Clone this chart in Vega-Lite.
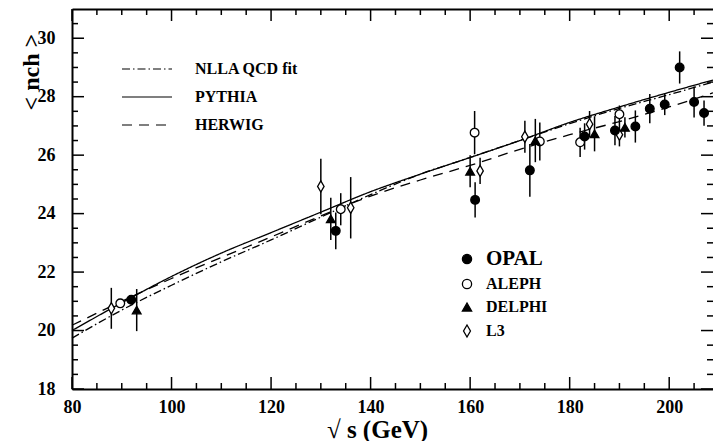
{
  "$schema": "https://vega.github.io/schema/vega-lite/v6.json",
  "width": 641,
  "height": 380,
  "autosize": "none",
  "padding": {"left": 72, "top": 9, "right": 0, "bottom": 52},
  "background": "white",
  "config": {
    "view": {"stroke": null},
    "font": "Liberation Serif",
    "axis": {
      "grid": false,
      "domain": true,
      "domainColor": "black",
      "domainWidth": 2,
      "ticks": false,
      "tickSize": 0,
      "labelFont": "Liberation Serif",
      "labelFontWeight": "bold",
      "labelFontSize": 18,
      "labelColor": "black",
      "labelFlush": false,
      "labelOverlap": false,
      "titleFont": "Liberation Serif",
      "titleFontWeight": "bold",
      "titleColor": "black"
    }
  },
  "datasets": {
    "curves": [
      {"model": "NLLA QCD fit", "E": 80, "n": 19.74},
      {"model": "NLLA QCD fit", "E": 90, "n": 20.7},
      {"model": "NLLA QCD fit", "E": 100, "n": 21.55},
      {"model": "NLLA QCD fit", "E": 110, "n": 22.35},
      {"model": "NLLA QCD fit", "E": 120, "n": 23.1},
      {"model": "NLLA QCD fit", "E": 130, "n": 23.88},
      {"model": "NLLA QCD fit", "E": 140, "n": 24.65},
      {"model": "NLLA QCD fit", "E": 150, "n": 25.35},
      {"model": "NLLA QCD fit", "E": 160, "n": 25.92},
      {"model": "NLLA QCD fit", "E": 170, "n": 26.5},
      {"model": "NLLA QCD fit", "E": 180, "n": 27.08},
      {"model": "NLLA QCD fit", "E": 190, "n": 27.6},
      {"model": "NLLA QCD fit", "E": 200, "n": 28.07},
      {"model": "NLLA QCD fit", "E": 208.8, "n": 28.5},
      {"model": "PYTHIA", "E": 80, "n": 20.0},
      {"model": "PYTHIA", "E": 90, "n": 20.95},
      {"model": "PYTHIA", "E": 100, "n": 21.85},
      {"model": "PYTHIA", "E": 110, "n": 22.65},
      {"model": "PYTHIA", "E": 120, "n": 23.35},
      {"model": "PYTHIA", "E": 130, "n": 24.05},
      {"model": "PYTHIA", "E": 140, "n": 24.75},
      {"model": "PYTHIA", "E": 150, "n": 25.35},
      {"model": "PYTHIA", "E": 160, "n": 25.92},
      {"model": "PYTHIA", "E": 170, "n": 26.5},
      {"model": "PYTHIA", "E": 180, "n": 27.12},
      {"model": "PYTHIA", "E": 190, "n": 27.65},
      {"model": "PYTHIA", "E": 200, "n": 28.15},
      {"model": "PYTHIA", "E": 208.8, "n": 28.57},
      {"model": "HERWIG", "E": 80, "n": 20.18},
      {"model": "HERWIG", "E": 90, "n": 21.0},
      {"model": "HERWIG", "E": 100, "n": 21.78},
      {"model": "HERWIG", "E": 110, "n": 22.5},
      {"model": "HERWIG", "E": 120, "n": 23.2},
      {"model": "HERWIG", "E": 130, "n": 23.92},
      {"model": "HERWIG", "E": 140, "n": 24.6},
      {"model": "HERWIG", "E": 150, "n": 25.15},
      {"model": "HERWIG", "E": 160, "n": 25.65},
      {"model": "HERWIG", "E": 170, "n": 26.2},
      {"model": "HERWIG", "E": 180, "n": 26.7},
      {"model": "HERWIG", "E": 190, "n": 27.15},
      {"model": "HERWIG", "E": 200, "n": 27.65},
      {"model": "HERWIG", "E": 208.8, "n": 28.13}
    ],
    "points": [
      {"exp": "L3", "E": 87.9, "n": 20.76, "err": 0.7},
      {"exp": "L3", "E": 130.0, "n": 24.93, "err": 0.95},
      {"exp": "L3", "E": 136.0, "n": 24.2, "err": 1.05},
      {"exp": "L3", "E": 162.0, "n": 25.46, "err": 0.45},
      {"exp": "L3", "E": 171.0, "n": 26.63, "err": 0.55},
      {"exp": "L3", "E": 184.0, "n": 27.06, "err": 0.45},
      {"exp": "L3", "E": 190.0, "n": 26.7, "err": 0.4},
      {"exp": "ALEPH", "E": 89.7, "n": 20.93, "err": 0.1},
      {"exp": "ALEPH", "E": 134.0, "n": 24.15, "err": 0.55},
      {"exp": "ALEPH", "E": 160.9, "n": 26.77, "err": 0.74},
      {"exp": "ALEPH", "E": 174.0, "n": 26.47, "err": 0.65},
      {"exp": "ALEPH", "E": 182.1, "n": 26.44, "err": 0.5},
      {"exp": "ALEPH", "E": 190.0, "n": 27.4, "err": 0.3},
      {"exp": "OPAL", "E": 91.9, "n": 21.05, "err": 0.1},
      {"exp": "OPAL", "E": 133.0, "n": 23.41, "err": 0.63},
      {"exp": "OPAL", "E": 161.0, "n": 24.47, "err": 0.6},
      {"exp": "OPAL", "E": 172.0, "n": 25.48, "err": 0.9},
      {"exp": "OPAL", "E": 183.0, "n": 26.64, "err": 0.45},
      {"exp": "OPAL", "E": 189.1, "n": 26.84, "err": 0.5},
      {"exp": "OPAL", "E": 193.2, "n": 26.98, "err": 0.55},
      {"exp": "OPAL", "E": 196.1, "n": 27.59, "err": 0.5},
      {"exp": "OPAL", "E": 199.1, "n": 27.73, "err": 0.36},
      {"exp": "OPAL", "E": 202.1, "n": 29.0, "err": 0.55},
      {"exp": "OPAL", "E": 205.0, "n": 27.82, "err": 0.53},
      {"exp": "OPAL", "E": 207.0, "n": 27.44, "err": 0.43},
      {"exp": "DELPHI", "E": 93.0, "n": 20.7, "err": 0.72},
      {"exp": "DELPHI", "E": 132.0, "n": 23.82, "err": 0.72},
      {"exp": "DELPHI", "E": 160.0, "n": 25.45, "err": 0.55},
      {"exp": "DELPHI", "E": 173.1, "n": 26.5, "err": 0.74},
      {"exp": "DELPHI", "E": 185.0, "n": 26.73, "err": 0.6},
      {"exp": "DELPHI", "E": 191.1, "n": 26.95, "err": 0.35}
    ],
    "xmaj": [{"v": 80}, {"v": 100}, {"v": 120}, {"v": 140}, {"v": 160}, {"v": 180}, {"v": 200}],
    "xmin": [{"v": 85}, {"v": 90}, {"v": 95}, {"v": 105}, {"v": 110}, {"v": 115}, {"v": 125}, {"v": 130}, {"v": 135}, {"v": 145}, {"v": 150}, {"v": 155}, {"v": 165}, {"v": 170}, {"v": 175}, {"v": 185}, {"v": 190}, {"v": 195}, {"v": 205}],
    "ymaj": [{"v": 18}, {"v": 20}, {"v": 22}, {"v": 24}, {"v": 26}, {"v": 28}, {"v": 30}],
    "ymin": [{"v": 18.5}, {"v": 19}, {"v": 19.5}, {"v": 20.5}, {"v": 21}, {"v": 21.5}, {"v": 22.5}, {"v": 23}, {"v": 23.5}, {"v": 24.5}, {"v": 25}, {"v": 25.5}, {"v": 26.5}, {"v": 27}, {"v": 27.5}, {"v": 28.5}, {"v": 29}, {"v": 29.5}, {"v": 30.5}]
  },
  "layer": [
    {
      "data": {"name": "curves"},
      "mark": {"type": "line", "color": "black", "strokeWidth": 1.3, "interpolate": "monotone"},
      "encoding": {
        "x": {
          "field": "E", "type": "quantitative",
          "scale": {"domain": [80, 208.8], "nice": false, "zero": false},
          "axis": {
            "orient": "bottom",
            "values": [80, 100, 120, 140, 160, 180, 200],
            "labelPadding": 9,
            "title": "√ s  (GeV)",
            "titleFontSize": 25,
            "titleX": 305,
            "titleY": 40,
            "titleBaseline": "middle",
            "titleAlign": "center"
          }
        },
        "y": {
          "field": "n", "type": "quantitative",
          "scale": {"domain": [18, 31], "nice": false, "zero": false},
          "axis": {
            "orient": "left",
            "values": [18, 20, 22, 24, 26, 28, 30],
            "labelPadding": 17,
            "title": "< nch >",
            "titleFontSize": 24,
            "titleAngle": -90,
            "titleX": -41,
            "titleY": 101,
            "titleAlign": "left",
            "titleBaseline": "middle"
          }
        },
        "strokeDash": {
          "field": "model", "type": "nominal",
          "scale": {"domain": ["NLLA QCD fit", "PYTHIA", "HERWIG"], "range": [[8, 3, 1.5, 3], [1, 0], [10, 7]]},
          "legend": {
            "orient": "none", "legendX": 67, "legendY": 52, "title": null, "padding": 0,
            "symbolType": "M-5,0L5,0", "symbolSize": 100, "symbolStrokeWidth": 1.2, "symbolStrokeColor": "black",
            "labelFont": "Liberation Serif", "labelFontWeight": "bold", "labelFontSize": 16, "labelColor": "black",
            "labelOffset": 40, "rowPadding": 12
          }
        }
      }
    },
    {
      "data": {"name": "xmaj"},
      "mark": {"type": "tick", "orient": "vertical", "size": 12, "thickness": 1.5, "color": "black", "opacity": 1, "yOffset": -6},
      "encoding": {
        "x": {"field": "v", "type": "quantitative", "axis": null},
        "y": {"datum": 18, "type": "quantitative", "axis": null}
      }
    },
    {
      "data": {"name": "xmin"},
      "mark": {"type": "tick", "orient": "vertical", "size": 6, "thickness": 1.5, "color": "black", "opacity": 1, "yOffset": -3},
      "encoding": {
        "x": {"field": "v", "type": "quantitative", "axis": null},
        "y": {"datum": 18, "type": "quantitative", "axis": null}
      }
    },
    {
      "data": {"name": "xmaj"},
      "mark": {"type": "tick", "orient": "vertical", "size": 12, "thickness": 1.5, "color": "black", "opacity": 1, "yOffset": 6},
      "encoding": {
        "x": {"field": "v", "type": "quantitative", "axis": null},
        "y": {"datum": 31, "type": "quantitative", "axis": null}
      }
    },
    {
      "data": {"name": "xmin"},
      "mark": {"type": "tick", "orient": "vertical", "size": 6, "thickness": 1.5, "color": "black", "opacity": 1, "yOffset": 3},
      "encoding": {
        "x": {"field": "v", "type": "quantitative", "axis": null},
        "y": {"datum": 31, "type": "quantitative", "axis": null}
      }
    },
    {
      "data": {"name": "ymaj"},
      "mark": {"type": "tick", "orient": "horizontal", "size": 12, "thickness": 1.5, "color": "black", "opacity": 1, "xOffset": 6},
      "encoding": {
        "y": {"field": "v", "type": "quantitative", "axis": null},
        "x": {"datum": 80, "type": "quantitative", "axis": null}
      }
    },
    {
      "data": {"name": "ymin"},
      "mark": {"type": "tick", "orient": "horizontal", "size": 6, "thickness": 1.5, "color": "black", "opacity": 1, "xOffset": 3},
      "encoding": {
        "y": {"field": "v", "type": "quantitative", "axis": null},
        "x": {"datum": 80, "type": "quantitative", "axis": null}
      }
    },
    {
      "data": {"name": "ymaj"},
      "mark": {"type": "tick", "orient": "horizontal", "size": 12, "thickness": 1.5, "color": "black", "opacity": 1, "xOffset": -6},
      "encoding": {
        "y": {"field": "v", "type": "quantitative", "axis": null},
        "x": {"datum": 208.8, "type": "quantitative", "axis": null}
      }
    },
    {
      "data": {"name": "ymin"},
      "mark": {"type": "tick", "orient": "horizontal", "size": 6, "thickness": 1.5, "color": "black", "opacity": 1, "xOffset": -3},
      "encoding": {
        "y": {"field": "v", "type": "quantitative", "axis": null},
        "x": {"datum": 208.8, "type": "quantitative", "axis": null}
      }
    },
    {
      "data": {"name": "points"},
      "mark": {"type": "errorbar", "ticks": false, "color": "black", "thickness": 1.5},
      "encoding": {
        "x": {"field": "E", "type": "quantitative", "axis": null},
        "y": {"field": "n", "type": "quantitative", "axis": null},
        "yError": {"field": "err"}
      }
    },
    {
      "data": {"name": "points"},
      "mark": {"type": "point", "strokeWidth": 1.3, "opacity": 1, "fillOpacity": 1, "size": 75},
      "encoding": {
        "x": {
          "field": "E", "type": "quantitative",
          "axis": {"orient": "top", "labels": false, "title": null, "ticks": false}
        },
        "y": {"field": "n", "type": "quantitative", "axis": null},
        "shape": {
          "field": "exp", "type": "nominal",
          "scale": {"domain": ["OPAL", "ALEPH", "DELPHI", "L3"], "range": ["circle", "circle", "triangle-up", "M0,-1.3L0.75,0L0,1.3L-0.75,0Z"]},
          "legend": {
            "orient": "none", "legendX": 387, "legendY": 242, "title": null, "padding": 0,
            "symbolSize": 85, "symbolStrokeWidth": 1.3,
            "labelFont": "Liberation Serif", "labelFontWeight": "bold", "labelColor": "black",
            "labelFontSize": {"expr": "datum.label === 'OPAL' ? 21 : 16"},
            "labelOffset": 11, "rowPadding": 7
          }
        },
        "fill": {
          "field": "exp", "type": "nominal",
          "scale": {"domain": ["OPAL", "ALEPH", "DELPHI", "L3"], "range": ["black", "white", "black", "white"]},
          "legend": {
            "orient": "none", "legendX": 387, "legendY": 242, "title": null, "padding": 0,
            "symbolSize": 85, "symbolStrokeWidth": 1.3,
            "labelFont": "Liberation Serif", "labelFontWeight": "bold", "labelColor": "black",
            "labelFontSize": {"expr": "datum.label === 'OPAL' ? 21 : 16"},
            "labelOffset": 11, "rowPadding": 7
          }
        },
        "stroke": {
          "field": "exp", "type": "nominal",
          "scale": {"domain": ["OPAL", "ALEPH", "DELPHI", "L3"], "range": ["black", "black", "black", "black"]},
          "legend": {
            "orient": "none", "legendX": 387, "legendY": 242, "title": null, "padding": 0,
            "symbolSize": 85, "symbolStrokeWidth": 1.3,
            "labelFont": "Liberation Serif", "labelFontWeight": "bold", "labelColor": "black",
            "labelFontSize": {"expr": "datum.label === 'OPAL' ? 21 : 16"},
            "labelOffset": 11, "rowPadding": 7
          }
        }
      }
    }
  ],
  "resolve": {"axis": {"x": "independent", "y": "independent"}}
}
